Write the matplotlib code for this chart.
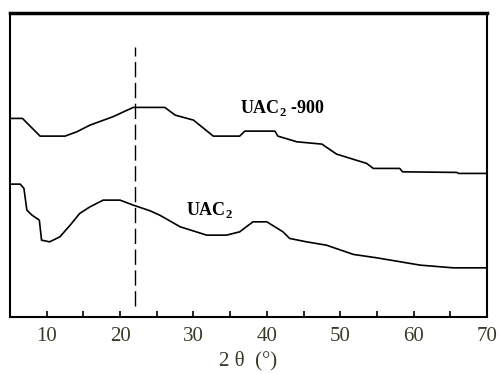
import matplotlib
matplotlib.use("Agg")
import matplotlib.pyplot as plt

# XRD patterns (intensity in arbitrary units)
x_900 = [5, 6.7, 9.1, 12.5, 14.1, 15.9, 19.0, 21.8, 26.1, 27.5, 30.0, 32.7, 36.3, 37.0,
         41.1, 41.5, 44.1, 47.5, 49.5, 53.6, 54.5, 58.1, 58.5, 65.9, 66.1, 70]
y_900 = [198.7, 198.7, 181, 181, 185.3, 192, 200.3, 209.7, 209.7, 202, 197, 181, 181, 186,
         186, 181, 175.3, 173, 163, 153.7, 148.7, 148.7, 145.3, 144.7, 143.7, 143.7]

x_uac = [5, 6.4, 6.9, 7.3, 8.0, 9.0, 9.3, 10.4, 11.8, 13.2, 14.5, 15.9, 17.7, 20.0, 21.8,
         24.1, 25.4, 28.2, 31.8, 34.5, 36.3, 38.1, 40.0, 42.2, 43.1, 45.4, 48.1, 51.8,
         55.0, 60.9, 65.4, 70]
y_uac = [133, 133, 128.7, 107, 102, 97, 77, 75.3, 80.3, 92, 103.7, 110.3, 117, 117, 112,
         106.3, 102, 90.3, 82, 82, 85.3, 95.3, 95.3, 85.3, 78.7, 75.3, 72, 62.7,
         59.3, 52, 49.3, 49.3]

ref_x = 22
tick_pos = list(range(10, 71, 5))
tick_labels = [str(t) if t % 10 == 0 else "" for t in tick_pos]

plt.rcParams["font.family"] = ["Liberation Serif", "DejaVu Serif"]

fig = plt.figure(figsize=(4.99, 3.74), dpi=100)
ax = fig.add_axes([0.02, 0.152, 0.956, 0.813])

ax.plot(x_900, y_900, color="black", lw=1.2)
ax.plot(x_uac, y_uac, color="black", lw=1.2)
ax.plot([ref_x, ref_x], [11, 270], color="black", lw=1.0, dashes=(11, 4))

ax.text(36.3, 209, "UAC$_\\mathregular{2}$ -900", fontsize=13, fontweight="bold",
        va="center", ha="left")
ax.text(29.0, 107, "UAC$_\\mathregular{2}$", fontsize=13, fontweight="bold",
        va="center", ha="left")

ax.set_xlim(5, 70)
ax.set_ylim(0, 304)
ax.set_xticks(tick_pos)
ax.set_xticklabels(tick_labels, fontsize=15, color="#3a3a2a")
ax.tick_params(axis="x", direction="in", length=4, width=1.2, pad=7)
ax.set_yticks([])
ax.set_xlabel("2 θ  (°)", fontsize=15, color="#3a3a2a", labelpad=4)
for s in ax.spines.values():
    s.set_linewidth(1.5)
ax.spines["top"].set_linewidth(2.5)

fig.savefig("out.png", dpi=100)
